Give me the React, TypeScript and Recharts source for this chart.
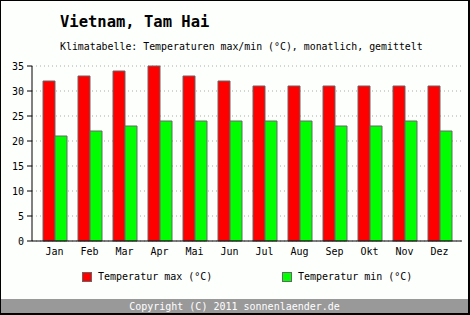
import { Bar, BarChart, CartesianGrid, XAxis, YAxis } from 'recharts';

const months = ['Jan', 'Feb', 'Mar', 'Apr', 'Mai', 'Jun', 'Jul', 'Aug', 'Sep', 'Okt', 'Nov', 'Dez'];
const tempMax = [32, 33, 34, 35, 33, 32, 31, 31, 31, 31, 31, 31];
const tempMin = [21, 22, 23, 24, 24, 24, 24, 24, 23, 23, 24, 22];
const yTicks = [0, 5, 10, 15, 20, 25, 30, 35];

const data = months.map((m, i) => ({ m, max: tempMax[i], min: tempMin[i] }));

const FONT = '"DejaVu Sans Mono", monospace';

function LegendItem({ x, color, label }: { x: number; color: string; label: string }) {
  return (
    <div style={{ position: 'absolute', left: x, top: 270, display: 'flex', alignItems: 'center' }}>
      <div style={{ width: 8, height: 8, background: color, border: '1px solid #666' }} />
      <span style={{ marginLeft: 6, fontSize: 10, fontFamily: FONT, color: '#000' }}>{label}</span>
    </div>
  );
}

export default function App() {
  return (
    <div
      style={{
        position: 'absolute',
        left: 0,
        top: 0,
        width: 470,
        height: 315,
        boxSizing: 'border-box',
        background: '#fdfffd',
        borderTop: '1px solid #000',
        borderLeft: '1px solid #000',
        borderRight: '2px solid #000',
        borderBottom: '2px solid #000',
        fontFamily: FONT,
        overflow: 'hidden',
      }}
    >
      <div style={{ position: 'absolute', left: 59, top: 12, fontSize: 15.5, fontWeight: 'bold', color: '#000' }}>
        Vietnam, Tam Hai
      </div>
      <div style={{ position: 'absolute', left: 59, top: 40, fontSize: 9.9, color: '#000' }}>
        Klimatabelle: Temperaturen max/min (°C), monatlich, gemittelt
      </div>
      <div style={{ position: 'absolute', left: -1, top: 0 }}>
        <BarChart
          width={470}
          height={300}
          data={data}
          margin={{ top: 65, right: 8, bottom: 40, left: 0 }}
          barSize={12}
          barGap={0}
        >
          <CartesianGrid vertical={false} stroke="#aaa" strokeDasharray="1 3" />
          <XAxis
            dataKey="m"
            height={20}
            padding={{ left: 5, right: 5 }}
            axisLine={{ stroke: '#000' }}
            tickLine={false}
            tickSize={0}
            tickMargin={7}
            interval={0}
            tick={{ fontSize: 10, fill: '#000', fontFamily: FONT }}
          />
          <YAxis
            width={32}
            domain={[0, 35]}
            ticks={yTicks}
            axisLine={{ stroke: '#000' }}
            tickLine={{ stroke: '#000' }}
            tickSize={5}
            tickMargin={3}
            tick={{ fontSize: 10, fill: '#000', fontFamily: FONT }}
          />
          <Bar dataKey="max" fill="#ff0000" stroke="#666" strokeWidth={1} isAnimationActive={false} />
          <Bar dataKey="min" fill="#00ff00" stroke="#666" strokeWidth={1} isAnimationActive={false} />
        </BarChart>
      </div>
      <LegendItem x={81} color="#ff0000" label="Temperatur max (°C)" />
      <LegendItem x={281} color="#00ff00" label="Temperatur min (°C)" />
      <div
        style={{
          position: 'absolute',
          left: 0,
          right: 0,
          top: 298,
          height: 15,
          background: '#999',
          color: '#fff',
          fontSize: 10,
          textAlign: 'center',
          lineHeight: '15px',
        }}
      >
        Copyright (C) 2011 sonnenlaender.de
      </div>
    </div>
  );
}
